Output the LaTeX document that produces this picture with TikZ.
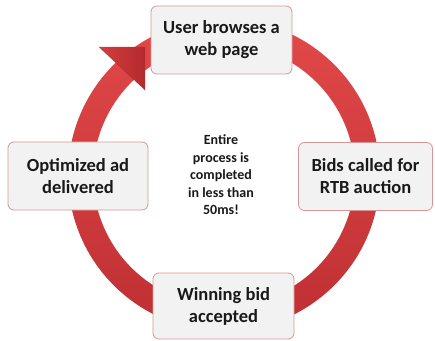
\documentclass[tikz,border=0pt]{standalone}
\usepackage{fontspec}
\setmainfont{Carlito}
\usetikzlibrary{calc}
\definecolor{boxfill}{RGB}{242,242,242}
\definecolor{boxline}{RGB}{214,150,150}
\definecolor{ringtop}{RGB}{228,74,74}
\definecolor{ringbot}{RGB}{188,46,50}
\definecolor{headdark}{RGB}{180,42,44}
\definecolor{headlight}{RGB}{212,62,62}
\tikzset{
  stagebox/.style={draw=boxline, fill=boxfill, line width=0.8pt, rounded corners=6pt,
    align=center, inner sep=0pt, minimum height=68pt,
    font=\fontsize{18.5}{22}\selectfont\bfseries, text=black!90},
  centertext/.style={align=center, inner sep=0pt,
    font=\fontsize{14}{17.5}\selectfont\bfseries, text=black!90}
}
\begin{document}
\begin{tikzpicture}[x=1pt,y=1pt]
\useasboundingbox (0,0) rectangle (435,340);
\coordinate (c) at (224,165);
% ring
\shade[top color=ringtop, bottom color=ringbot]
  ($(c)+(134:156)$) arc[start angle=134, end angle=-250, radius=156]
  -- ($(c)+(-250:131)$) arc[start angle=-250, end angle=134, radius=131] -- cycle;
% arrowhead
\coordinate (hl) at (99,293);
\coordinate (ht) at (145,293);
\coordinate (hb) at (145,250);
\shade[left color=headlight, right color=headdark]
  (hl) -- (ht) -- (hb) -- cycle;
\draw[headdark!80!black, line width=0.4pt, opacity=0.5] (hl) -- (hb);
% boxes
\node[stagebox, minimum width=141pt] (user) at (221.5,300) {User browses a\\web page};
\node[stagebox, minimum width=134pt] (bids) at (365.5,163.5) {Bids called for\\RTB auction};
\node[stagebox, minimum width=141pt, minimum height=66pt] (win) at (223.5,34) {Winning bid\\accepted};
\node[stagebox, minimum width=140pt] (opt) at (78,164) {Optimized ad\\delivered};
\node[centertext] (mid) at (221,165) {Entire\\process is\\completed\\in less than\\50ms!};
\end{tikzpicture}
\end{document}
